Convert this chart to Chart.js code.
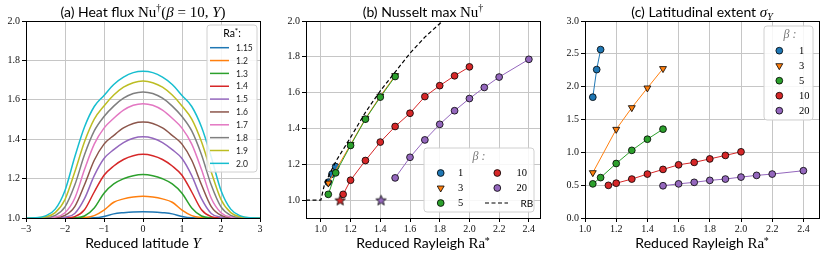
<!DOCTYPE html>
<html><head><meta charset="utf-8">
<script src="https://cdn.jsdelivr.net/npm/chart.js@4.4.1/dist/chart.umd.min.js"></script>
<style>
html,body{margin:0;padding:0;background:#fff;}
#wrap{position:relative;width:830px;height:254px;overflow:hidden;}
#wrap canvas{position:absolute;left:0;top:0;}
</style></head><body>
<div id="wrap">
<canvas id="ca" width="830" height="254"></canvas>
<canvas id="cb" width="830" height="254"></canvas>
<canvas id="cc" width="830" height="254"></canvas>
</div>
<script>
// ---------------- DATA ----------------
// (a) heat flux profiles Nu(beta=10, Y) for several Ra*
const latY = [-3,-2.75,-2.5,-2.25,-2,-1.75,-1.5,-1.25,-1,-0.75,-0.5,-0.25,0,0.25,0.5,0.75,1,1.25,1.5,1.75,2,2.25,2.5,2.75,3];
const raCurveLabels = ['1.15','1.2','1.3','1.4','1.5','1.6','1.7','1.8','1.9','2.0'];
const flux115 = [1,1,1,1,1,1,1,1.001,1.008,1.021,1.027,1.031,1.032,1.031,1.027,1.021,1.008,1.001,1,1,1,1,1,1,1];
const flux12  = [1,1,1,1,1,1,1.002,1.012,1.040,1.080,1.097,1.107,1.111,1.107,1.097,1.080,1.040,1.012,1.002,1,1,1,1,1,1];
const flux13  = [1,1,1,1,1,1.001,1.010,1.051,1.126,1.173,1.199,1.215,1.221,1.215,1.199,1.173,1.126,1.051,1.010,1.001,1,1,1,1,1];
const flux14  = [1,1,1,1,1.001,1.007,1.042,1.132,1.217,1.264,1.297,1.316,1.323,1.316,1.297,1.264,1.217,1.132,1.042,1.007,1.001,1,1,1,1];
const flux15  = [1,1,1,1,1.004,1.023,1.098,1.215,1.302,1.347,1.383,1.405,1.412,1.405,1.383,1.347,1.302,1.215,1.098,1.023,1.004,1,1,1,1];
const flux16  = [1,1,1,1.001,1.013,1.058,1.169,1.293,1.375,1.419,1.457,1.480,1.487,1.480,1.457,1.419,1.375,1.293,1.169,1.058,1.013,1.001,1,1,1];
const flux17  = [1,1,1.001,1.005,1.027,1.100,1.246,1.375,1.456,1.506,1.547,1.572,1.580,1.572,1.547,1.506,1.456,1.375,1.246,1.100,1.027,1.005,1.001,1,1];
const flux18  = [1,1,1.001,1.013,1.056,1.167,1.321,1.442,1.515,1.568,1.608,1.632,1.640,1.632,1.608,1.568,1.515,1.442,1.321,1.167,1.056,1.013,1.001,1,1];
const flux19  = [1,1.001,1.006,1.027,1.094,1.233,1.387,1.502,1.569,1.624,1.664,1.687,1.695,1.687,1.664,1.624,1.569,1.502,1.387,1.233,1.094,1.027,1.006,1.001,1];
const flux20  = [1,1.001,1.011,1.045,1.140,1.310,1.462,1.566,1.622,1.678,1.715,1.738,1.745,1.738,1.715,1.678,1.622,1.566,1.462,1.310,1.140,1.045,1.011,1.001,1];

// (b),(c) per beta: reduced Rayleigh values, max Nusselt, latitudinal extent
const betaLabels = ['1','3','5','10','20'];
const raBeta1  = [1.05,1.075,1.1];
const raBeta3  = [1.05,1.2,1.3,1.4,1.5];
const raBeta5  = [1.05,1.1,1.2,1.3,1.4,1.5];
const raBeta10 = [1.15,1.2,1.3,1.4,1.5,1.6,1.7,1.8,1.9,2.0];
const raBeta20 = [1.5,1.6,1.7,1.8,1.9,2.0,2.1,2.2,2.4];
const nuBeta1  = [1.10,1.145,1.187];
const nuBeta3  = [1.095,1.31,1.455,1.58,1.695];
const nuBeta5  = [1.032,1.152,1.305,1.452,1.575,1.69];
const nuBeta10 = [1.032,1.111,1.221,1.324,1.411,1.485,1.578,1.639,1.694,1.744];
const nuBeta20 = [1.124,1.239,1.336,1.423,1.499,1.567,1.629,1.687,1.786];
const onsetRa  = [1.13,1.405];   // stars (beta=10, beta=20)
const onsetNu  = [1.0,1.0];
const raRB = [0.9,1.0,1.025,1.05,1.1,1.2,1.3,1.4,1.5,1.6,1.7,1.8,1.9];
const nuRB = [1.0,1.0,1.09,1.13,1.215,1.35,1.49,1.61,1.715,1.82,1.91,1.985,2.06];
const sigBeta1  = [1.84,2.26,2.565];
const sigBeta3  = [0.69,1.35,1.68,1.98,2.275];
const sigBeta5  = [0.52,0.615,0.83,1.03,1.20,1.353];
const sigBeta10 = [0.497,0.53,0.593,0.669,0.74,0.81,0.847,0.90,0.953,1.008];
const sigBeta20 = [0.491,0.52,0.543,0.573,0.593,0.623,0.649,0.669,0.72];

// tick values / labels
const ticksAx = [-3,-2,-1,0,1,2,3];
const ticksAxLab = ['\u22123','\u22122','\u22121','0','1','2','3'];
const ticksAy = [1.0,1.2,1.4,1.6,1.8,2.0];
const ticksAyLab = ['1.0','1.2','1.4','1.6','1.8','2.0'];
const ticksBx = [1.0,1.2,1.4,1.6,1.8,2.0,2.2,2.4];
const ticksBxLab = ['1.0','1.2','1.4','1.6','1.8','2.0','2.2','2.4'];
const ticksBy = [1.0,1.2,1.4,1.6,1.8,2.0];
const ticksByLab = ['1.0','1.2','1.4','1.6','1.8','2.0'];
const ticksCx = ticksBx;
const ticksCxLab = ticksBxLab;
const ticksCy = [0,0.5,1.0,1.5,2.0,2.5,3.0];
const ticksCyLab = ['0.0','0.5','1.0','1.5','2.0','2.5','3.0'];

// ---------------- STYLE ----------------
const C = {blue:'#1f77b4',orange:'#ff7f0e',green:'#2ca02c',red:'#d62728',purple:'#9467bd',
           brown:'#8c564b',pink:'#e377c2',gray:'#7f7f7f',olive:'#bcbd22',cyan:'#17becf'};
const curveColors = [C.blue,C.orange,C.green,C.red,C.purple,C.brown,C.pink,C.gray,C.olive,C.cyan];
const betaColors = [C.blue,C.orange,C.green,C.red,C.purple];
const SANS = 'Lato, "DejaVu Sans", sans-serif';
const SERIF = '"Liberation Serif", "DejaVu Serif", serif';
const GRID = '#c6c6c6';
Chart.defaults.font.family = SERIF;
Chart.defaults.font.size = 10;

function pts(xs, ys){ return xs.map((x,i)=>({x:x, y:ys[i]})); }

function starCanvas(color){
  const c = document.createElement('canvas'); c.width = 13; c.height = 13;
  const g = c.getContext('2d');
  g.beginPath();
  for (let k=0;k<10;k++){
    const r = (k%2) ? 2.3 : 5.4;
    const a = -Math.PI/2 + k*Math.PI/5;
    const px = 6.5 + r*Math.cos(a), py = 7 + r*Math.sin(a);
    if (k) g.lineTo(px,py); else g.moveTo(px,py);
  }
  g.closePath(); g.fillStyle = color; g.fill();
  g.lineWidth = 0.8; g.strokeStyle = '#000'; g.stroke();
  return c;
}

function axis(min, max, tickVals, tickLabs, size, isX){
  return {
    type:'linear', min:min, max:max,
    grid:{color:GRID, lineWidth:1, tickLength:4, tickColor:'#000', tickWidth:1, drawTicks:true},
    border:{color:'#000', width:1},
    ticks:{font:{family:SERIF, size:10}, color:'#111', padding: isX ? 1 : 2, maxRotation:0, autoSkip:false,
           callback:(v,i)=>tickLabs[i]},
    afterBuildTicks:(s)=>{ s.ticks = tickVals.map(v=>({value:v})); },
    afterFit:(s)=>{ if (isX) s.height = size; else s.width = size; }
  };
}

function baseOptions(padL, padR, xs, ys){
  return {
    responsive:false, animation:false, events:[],
    layout:{padding:{left:padL, right:padR, top:21, bottom:0}},
    plugins:{legend:{display:false}, tooltip:{enabled:false}, title:{display:false}},
    scales:{x:xs, y:ys}
  };
}

function drawRich(ctx, segs, cx, base){
  let total = 0;
  segs.forEach(s=>{ ctx.font = s.f; s.w = ctx.measureText(s.t).width; total += s.w + (s.dx||0); });
  let x = cx - total/2;
  ctx.textAlign = 'left'; ctx.textBaseline = 'alphabetic'; ctx.fillStyle = '#000';
  segs.forEach(s=>{ ctx.font = s.f; x += (s.dx||0); ctx.fillText(s.t, x, base + (s.dy||0)); x += s.w; });
}

function frame(ctx, a){
  const L = Math.round(a.left-0.5)+0.5, R = Math.round(a.right-0.5)+0.5;
  const T = Math.round(a.top-0.5)+0.5, B = Math.round(a.bottom-0.5)+0.5;
  ctx.save(); ctx.strokeStyle = '#000'; ctx.lineWidth = 1; ctx.strokeRect(L,T,R-L,B-T); ctx.restore();
}

function legendBox(ctx, x0, y0, x1, y1){
  const r = 3;
  ctx.save();
  ctx.beginPath();
  ctx.moveTo(x0+r,y0); ctx.lineTo(x1-r,y0); ctx.quadraticCurveTo(x1,y0,x1,y0+r);
  ctx.lineTo(x1,y1-r); ctx.quadraticCurveTo(x1,y1,x1-r,y1);
  ctx.lineTo(x0+r,y1); ctx.quadraticCurveTo(x0,y1,x0,y1-r);
  ctx.lineTo(x0,y0+r); ctx.quadraticCurveTo(x0,y0,x0+r,y0);
  ctx.closePath();
  ctx.fillStyle = 'rgba(255,255,255,0.85)'; ctx.fill();
  ctx.strokeStyle = '#d0d0d0'; ctx.lineWidth = 1; ctx.stroke();
  ctx.restore();
}

function marker(ctx, ds, x, y){
  ctx.save();
  ctx.fillStyle = ds.pointBackgroundColor; ctx.strokeStyle = ds.pointBorderColor;
  ctx.lineWidth = ds.pointBorderWidth;
  Chart.helpers.drawPoint(ctx, {pointStyle:ds.pointStyle, rotation:ds.pointRotation||0,
    radius:ds.pointRadius, borderWidth:ds.pointBorderWidth}, x, y);
  ctx.restore();
}

const titleF = '14px ' + SANS;
const mathF = '15px ' + SERIF;
const mathI = 'italic 15px ' + SERIF;
const supF = '10px ' + SERIF;
const XLAB_BASE = 248;
const TITLE_BASE = 16.7;

// ---------------- PANEL (a) ----------------
const fluxSeries = [flux115,flux12,flux13,flux14,flux15,flux16,flux17,flux18,flux19,flux20];
const chartA = new Chart(document.getElementById('ca'), {
  type:'line',
  data:{datasets: fluxSeries.map((s,i)=>({
    label: raCurveLabels[i], data: pts(latY, s),
    borderColor: curveColors[i], backgroundColor: curveColors[i], borderWidth:1.5,
    pointRadius:0, pointHoverRadius:0, cubicInterpolationMode:'monotone', fill:false, order:-i
  }))},
  options: baseOptions(0, 570,
    axis(-3, 3, ticksAx, ticksAxLab, 36, true),
    axis(1.0, 2.0, ticksAy, ticksAyLab, 26, false)),
  plugins:[{
    id:'decorA',
    afterDatasetsDraw(chart){ frame(chart.ctx, chart.chartArea); },
    afterDraw(chart){
      const ctx = chart.ctx, a = chart.chartArea, cx = (a.left+a.right)/2;
      drawRich(ctx, [{t:'(a) Heat flux ', f:titleF},{t:'Nu', f:mathF},{t:'\u2020', f:supF, dy:-6},
        {t:'(', f:mathF},{t:'\u03B2', f:mathI},{t:' = 10, ', f:mathF},{t:'Y', f:mathI},{t:')', f:mathF}], cx, TITLE_BASE);
      drawRich(ctx, [{t:'Reduced latitude ', f:titleF},{t:'Y', f:mathI}], cx, XLAB_BASE);
      // legend
      legendBox(ctx, 207, 25, 257, 172);
      drawRich(ctx, [{t:'Ra', f:'10.5px '+SANS},{t:'*', f:'8px '+SANS, dy:-3.5},{t:':', f:'10.5px '+SANS}], 232, 37);
      ctx.save();
      chart.data.datasets.forEach((ds,i)=>{
        const y = 47.7 + 12.85*i;
        ctx.strokeStyle = ds.borderColor; ctx.lineWidth = 1.5;
        ctx.beginPath(); ctx.moveTo(210, y); ctx.lineTo(229, y); ctx.stroke();
        ctx.fillStyle = '#222'; ctx.font = '8.5px ' + SANS; ctx.textAlign = 'left'; ctx.textBaseline = 'middle';
        ctx.fillText(ds.label, 236, y + 0.5);
      });
      ctx.restore();
    }
  }]
});

// ---------------- PANEL (b) ----------------
const markerStyles = ['circle','triangle','circle','circle','circle'];
const markerRot = [0,180,0,0,0];
const markerRad = [3.4,4.0,3.4,3.4,3.4];
const raSets = [raBeta1,raBeta3,raBeta5,raBeta10,raBeta20];
const nuSets = [nuBeta1,nuBeta3,nuBeta5,nuBeta10,nuBeta20];
const sigSets = [sigBeta1,sigBeta3,sigBeta5,sigBeta10,sigBeta20];

function betaDatasets(ySets){
  return raSets.map((xs,i)=>({
    label: betaLabels[i], data: pts(xs, ySets[i]), showLine:true,
    borderColor: betaColors[i], borderWidth:1, backgroundColor: betaColors[i],
    pointStyle: markerStyles[i], pointRotation: markerRot[i], pointRadius: markerRad[i],
    pointBackgroundColor: betaColors[i], pointBorderColor:'#000', pointBorderWidth:0.8,
    pointHoverRadius: markerRad[i], order: -i
  }));
}

const dsB = betaDatasets(nuSets);
dsB.push({label:'onset10', data: pts([onsetRa[0]],[onsetNu[0]]), showLine:false,
  pointStyle: starCanvas(C.red), pointRadius:5, order:-5});
dsB.push({label:'onset20', data: pts([onsetRa[1]],[onsetNu[1]]), showLine:false,
  pointStyle: starCanvas(C.purple), pointRadius:5, order:-6});
dsB.push({label:'RB', data: pts(raRB, nuRB), showLine:true, borderColor:'#000', borderWidth:1.2,
  borderDash:[4,2.5], pointRadius:0, pointHoverRadius:0, order:-7});

const chartB = new Chart(document.getElementById('cb'), {
  type:'line',
  data:{datasets: dsB},
  options: baseOptions(280, 290,
    axis(0.9, 2.475, ticksBx, ticksBxLab, 36, true),
    axis(0.9, 2.0, ticksBy, ticksByLab, 26, false)),
  plugins:[{
    id:'decorB',
    afterDatasetsDraw(chart){ frame(chart.ctx, chart.chartArea); },
    afterDraw(chart){
      const ctx = chart.ctx, a = chart.chartArea, cx = (a.left+a.right)/2;
      drawRich(ctx, [{t:'(b) Nusselt max ', f:titleF},{t:'Nu', f:mathF},{t:'\u2020', f:supF, dy:-6}], cx, TITLE_BASE);
      drawRich(ctx, [{t:'Reduced Rayleigh ', f:titleF},{t:'Ra', f:mathF},{t:'*', f:supF, dy:-4, dx:-0.5}], cx, XLAB_BASE);
      legendBox(ctx, 424, 148, 534, 212);
      ctx.save();
      ctx.fillStyle = '#777'; ctx.font = 'italic 12px ' + SERIF; ctx.textAlign = 'center'; ctx.textBaseline = 'alphabetic';
      ctx.fillText('\u03B2 :', 479, 160);
      const ds = chart.data.datasets;
      const cols = [[440.7,458],[497.3,516.5]];
      const rows = [173,188,203];
      const items = [0,1,2,3,4,7];
      items.forEach((di,k)=>{
        const col = cols[Math.floor(k/3)], y = rows[k%3], d = ds[di];
        if (di === 7){
          ctx.strokeStyle = '#000'; ctx.lineWidth = 1.2; ctx.setLineDash([4,2.5]);
          ctx.beginPath(); ctx.moveTo(485, y); ctx.lineTo(508, y); ctx.stroke(); ctx.setLineDash([]);
          ctx.fillStyle = '#000'; ctx.font = '10px ' + SANS; ctx.textAlign = 'left'; ctx.textBaseline = 'middle';
          ctx.fillText(d.label, 520.5, y + 0.5);
        } else {
          marker(ctx, d, col[0], y);
          ctx.fillStyle = '#000'; ctx.font = '10.5px ' + SERIF; ctx.textAlign = 'left'; ctx.textBaseline = 'middle';
          ctx.fillText(d.label, col[1], y + 0.5);
        }
      });
      ctx.restore();
    }
  }]
});

// ---------------- PANEL (c) ----------------
const chartC = new Chart(document.getElementById('cc'), {
  type:'line',
  data:{datasets: betaDatasets(sigSets)},
  options: baseOptions(556, 11,
    axis(1.0, 2.5, ticksCx, ticksCxLab, 36, true),
    axis(0, 3.0, ticksCy, ticksCyLab, 29, false)),
  plugins:[{
    id:'decorC',
    afterDatasetsDraw(chart){ frame(chart.ctx, chart.chartArea); },
    afterDraw(chart){
      const ctx = chart.ctx, a = chart.chartArea, cx = (a.left+a.right)/2;
      drawRich(ctx, [{t:'(c) Latitudinal extent ', f:titleF},{t:'\u03C3', f:mathI},{t:'Y', f:'italic 10px '+SERIF, dy:3}], cx, TITLE_BASE);
      drawRich(ctx, [{t:'Reduced Rayleigh ', f:titleF},{t:'Ra', f:mathF},{t:'*', f:supF, dy:-4, dx:-0.5}], cx, XLAB_BASE);
      legendBox(ctx, 764, 26, 813, 120);
      ctx.save();
      ctx.fillStyle = '#777'; ctx.font = 'italic 12px ' + SERIF; ctx.textAlign = 'center'; ctx.textBaseline = 'alphabetic';
      ctx.fillText('\u03B2 :', 790, 38);
      chart.data.datasets.forEach((d,k)=>{
        const y = 50.7 + 15*k;
        marker(ctx, d, 779.3, y);
        ctx.fillStyle = '#000'; ctx.font = '10.5px ' + SERIF; ctx.textAlign = 'left'; ctx.textBaseline = 'middle';
        ctx.fillText(d.label, 799, y + 0.5);
      });
      ctx.restore();
    }
  }]
});
</script>
</body></html>
